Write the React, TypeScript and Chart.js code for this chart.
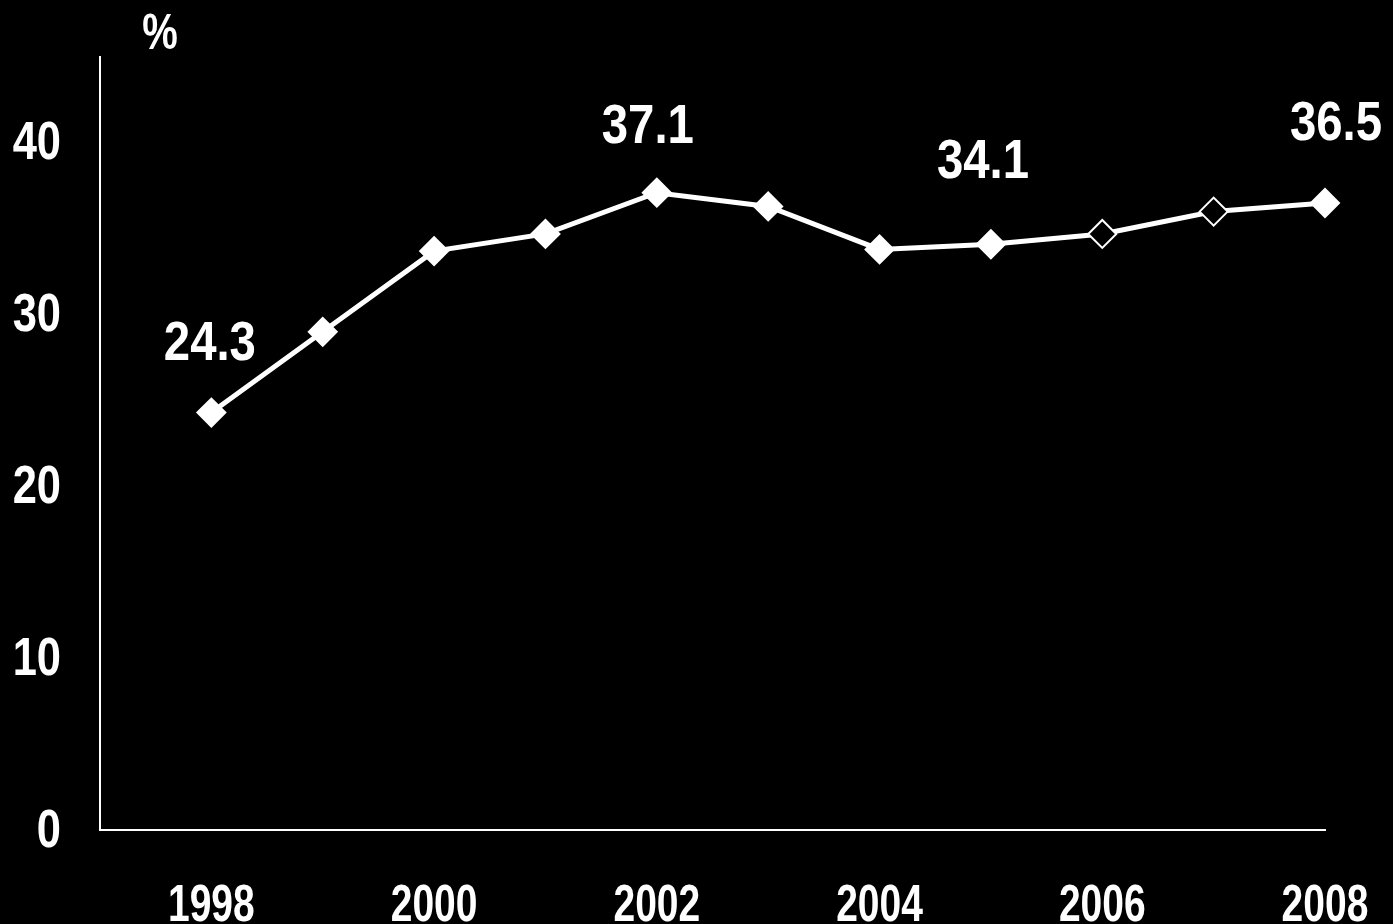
import React, { useEffect, useRef } from "react";
import { Chart, registerables } from "chart.js";

Chart.register(...registerables);

const years = [1998, 1999, 2000, 2001, 2002, 2003, 2004, 2005, 2006, 2007, 2008];
const values = [24.3, 29.0, 33.7, 34.7, 37.1, 36.3, 33.8, 34.1, 34.7, 36.0, 36.5];
const hollowYears = [2006, 2007];
const labelledYears = [1998, 2002, 2005, 2008];
const yTicks = [0, 10, 20, 30, 40];
const xTickYears = [1998, 2000, 2002, 2004, 2006, 2008];
const unitLabel = "%";

const FONT = "'Liberation Sans Narrow', 'Arial Narrow', 'Liberation Sans', Arial, sans-serif";

// label offsets (style only) in pixels relative to the point
const labelOffsets: Record<number, [number, number]> = {
  1998: [-1.5, -70],
  2002: [-9, -67],
  2005: [-8, -83],
  2008: [11, -80],
};

function condensedText(ctx: CanvasRenderingContext2D, text: string, x: number, y: number, size: number, sx: number, align: CanvasTextAlign) {
  ctx.save();
  ctx.font = `bold ${size}px ${FONT}`;
  ctx.textAlign = align;
  ctx.textBaseline = "middle";
  ctx.fillStyle = "#ffffff";
  ctx.translate(x, y);
  ctx.scale(sx, 1);
  ctx.fillText(text, 0, 0);
  ctx.restore();
}

const textPlugin = {
  id: "textLayer",
  afterDraw(chart: any) {
    const ctx = chart.ctx;
    const xs = chart.scales.x;
    const ys = chart.scales.y;
    // y tick labels
    ys.ticks.forEach((t: any) => {
      condensedText(ctx, String(t.value), xs.left - 39, ys.getPixelForValue(t.value) + 2, 53, 0.82, "right");
    });
    // x tick labels
    xs.ticks.forEach((t: any) => {
      condensedText(ctx, String(t.value), xs.getPixelForValue(t.value), ys.bottom + 77, 52, 0.75, "center");
    });
    // value labels
    labelledYears.forEach((yr) => {
      const i = years.indexOf(yr);
      const v = values[i];
      const off = labelOffsets[yr] || [0, -40];
      condensedText(ctx, v.toFixed(1), xs.getPixelForValue(yr) + off[0], ys.getPixelForValue(v) + off[1] + 2, 55, 0.86, "center");
    });
    // unit label
    condensedText(ctx, unitLabel, chart.chartArea.left + 60, chart.chartArea.top - 22, 50, 0.8, "center");
  },
};

export default function App() {
  const ref = useRef<HTMLCanvasElement | null>(null);
  useEffect(() => {
    document.body.style.margin = "0";
    document.body.style.background = "#000";
    if (!ref.current) return;
    const chart = new Chart(ref.current, {
      type: "line",
      data: {
        datasets: [
          {
            data: years.map((y, i) => ({ x: y, y: values[i] })),
            borderColor: "#ffffff",
            borderWidth: 5,
            pointStyle: "rectRot",
            pointRadius: 14,
            pointBorderWidth: 2,
            pointBorderColor: "#ffffff",
            pointBackgroundColor: years.map((y) => (hollowYears.includes(y) ? "#000000" : "#ffffff")),
            tension: 0,
            clip: false,
          },
        ],
      },
      options: {
        animation: false,
        responsive: false,
        maintainAspectRatio: false,
        layout: { padding: { top: 57, right: 68, left: 0, bottom: 0 } },
        plugins: { legend: { display: false }, tooltip: { enabled: false } },
        scales: {
          x: {
            type: "linear",
            min: 1997,
            max: 2008,
            afterBuildTicks: (s: any) => {
              s.ticks = xTickYears.map((v) => ({ value: v }));
            },
            afterFit: (s: any) => {
              s.height = 94;
              s.paddingLeft = 0;
              s.paddingRight = 0;
            },
            grid: { display: false, drawTicks: false },
            border: { display: true, color: "#ffffff", width: 2 },
            ticks: { display: false },
          },
          y: {
            min: 0,
            max: 45,
            afterBuildTicks: (s: any) => {
              s.ticks = yTicks.map((v) => ({ value: v }));
            },
            afterFit: (s: any) => {
              s.width = 100;
              s.paddingTop = 0;
              s.paddingBottom = 0;
            },
            grid: { display: false, drawTicks: false },
            border: { display: true, color: "#ffffff", width: 2 },
            ticks: { display: false },
          },
        },
      },
      plugins: [textPlugin],
    } as any);
    return () => chart.destroy();
  }, []);
  return (
    <div style={{ width: 1393, height: 924, background: "#000" }}>
      <canvas ref={ref} width={1393} height={924} style={{ display: "block" }} />
    </div>
  );
}
